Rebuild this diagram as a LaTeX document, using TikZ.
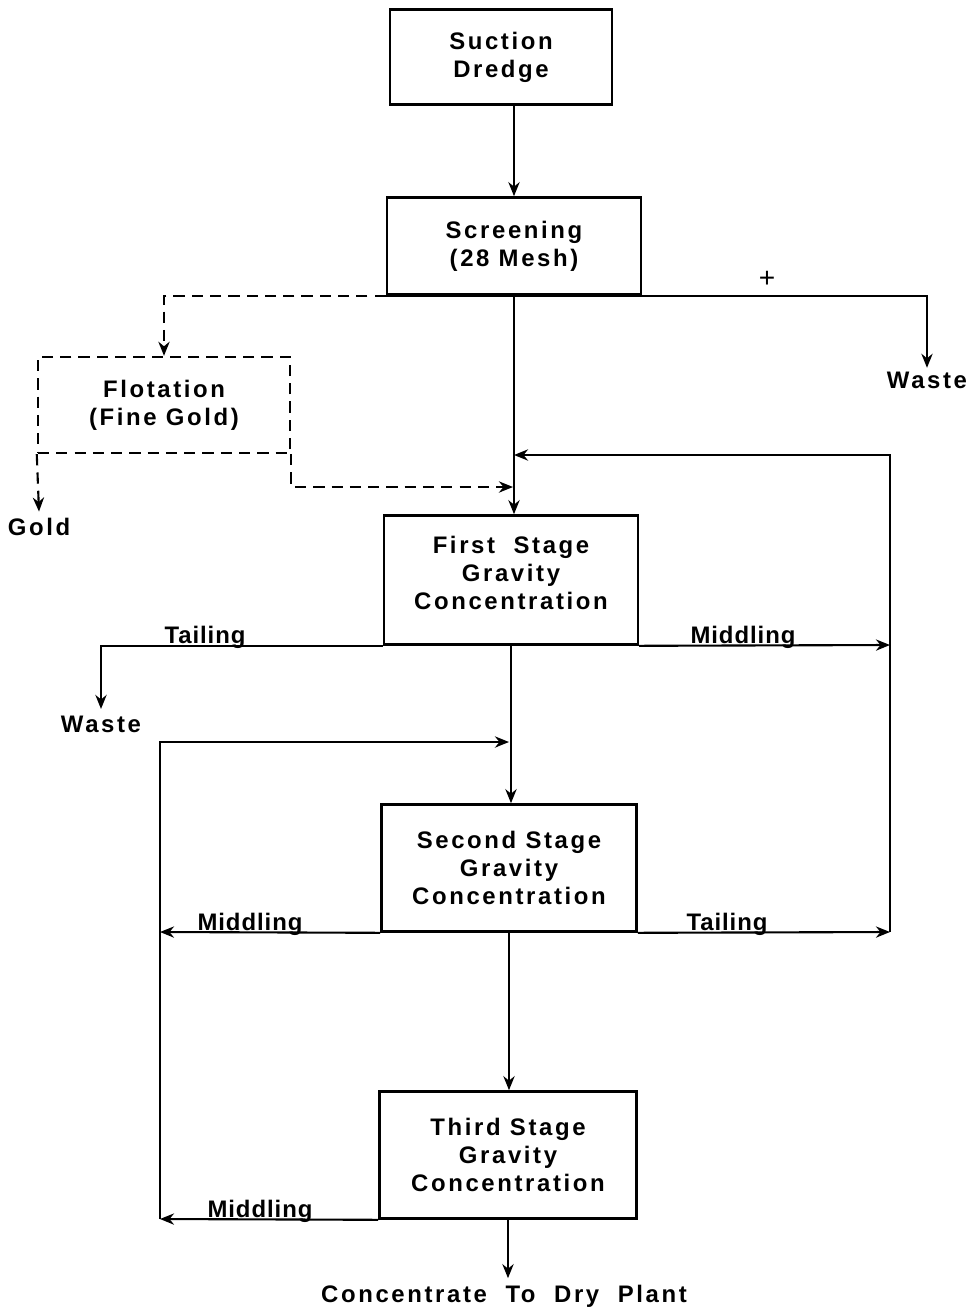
\documentclass[tikz,border=0pt]{standalone}
\usepackage{fontspec}
\setmainfont{Liberation Sans}[BoldFont={* Bold}]
\newfontfamily\boxfont{Liberation Sans Bold}[LetterSpace=11]
\newfontfamily\labfont{Liberation Sans Bold}[LetterSpace=4]
\usetikzlibrary{arrows.meta}

\begin{document}
\begin{tikzpicture}[x=0.025cm, y=-0.025cm, >={Stealth[length=10pt,width=8pt]},
    line width=1.5pt,
    stage/.style={draw, line width=1.7pt, align=center, inner sep=0pt,
        font=\boxfont\fontsize{17}{20}\selectfont},
    outtext/.style={font=\boxfont\fontsize{17}{20}\selectfont, inner sep=0pt},
    flowlab/.style={font=\labfont\fontsize{17}{20}\selectfont, anchor=base, inner sep=0pt},
    dashflow/.style={dash pattern=on 8pt off 5pt}]
    \useasboundingbox (0,0) rectangle (972,1310);
    % process boxes
    \node[stage, minimum width=5.55cm, minimum height=2.38cm] (dredge) at (501,57) {Suction\\Dredge};
    \node[stage, minimum width=6.35cm, minimum height=2.43cm] (screen) at (514,246) {Screening\\(28 Mesh)};
    \node[stage, dashflow, minimum width=6.3cm, minimum height=2.4cm] (flot) at (164,405) {Flotation\\(Fine Gold)};
    \node[stage, minimum width=6.35cm, minimum height=3.23cm] (first) at (511,580) {First\ \ Stage\\Gravity\\Concentration\\[-10pt]};
    \node[stage, minimum width=6.38cm, minimum height=3.18cm] (second) at (509,868) {Second Stage\\Gravity\\Concentration};
    \node[stage, minimum width=6.43cm, minimum height=3.18cm] (third) at (508,1155) {Third Stage\\Gravity\\Concentration};
    % products
    \node[outtext] (wasteA) at (927,380) {Waste};
    \node[outtext] (gold) at (39,527) {Gold};
    \node[outtext] (wasteB) at (101,724) {Waste};
    \node[outtext] (conc) at (504,1296) {Concentrate\ \ To\ \ Dry\ \ Plant};
    \node[font=\fontsize{20}{20}\selectfont] (plus) at (767,279) {+};
    % junction points
    \coordinate (fin) at (513,487);
    \coordinate (rtop) at (890,455);
    \coordinate (rmid) at (890,645);
    \coordinate (rbot) at (890,932);
    \coordinate (ltop) at (160,742);
    \coordinate (lmid) at (160,932);
    \coordinate (lbot) at (160,1219);
    % main flow
    \draw[->] (dredge.south -| screen.south) -- (screen.north);
    \draw[->] (screen.south west) -- (screen.south west -| wasteA) -- ([yshift=2pt]wasteA.north);
    \draw[->] (screen.south) -- (screen.south |- first.north);
    \draw[->, dashflow] (screen.south west) -- (screen.south -| flot.north) -- (flot.north);
    \draw[->, dashflow] (flot.south west) -- ([yshift=4pt]gold.north);
    \draw[->, dashflow] (flot.south east) -- (flot.south east |- fin) -- (fin);
    % first stage
    \draw[->] (first.south west) -- (first.south west -| wasteB.north) -- ([yshift=4pt]wasteB.north);
    \draw[->] (first.south east) -- (rmid);
    \draw[->] (rbot) -- (rtop) -- (rtop -| screen.south);
    \draw[->] (first.south) -- (first.south |- second.north);
    \node[flowlab] (tail1) at (205,643) {Tailing};
    \node[flowlab] (midd1) at (743,643) {Middling};
    % second stage
    \draw[->] (second.south west) -- (lmid);
    \draw[->] (second.south east) -- (rbot);
    \draw[->] (lbot) -- (ltop) -- (ltop -| second.north);
    \draw[->] (second.south) -- (second.south |- third.north);
    \node[flowlab] (midd2) at (250,930) {Middling};
    \node[flowlab] (tail2) at (727,930) {Tailing};
    % third stage
    \draw[->] (third.south west) -- (lbot);
    \draw[->] (third.south) -- ([yshift=4pt]third.south |- conc.north);
    \node[flowlab] (midd3) at (260,1217) {Middling};
\end{tikzpicture}
\end{document}
